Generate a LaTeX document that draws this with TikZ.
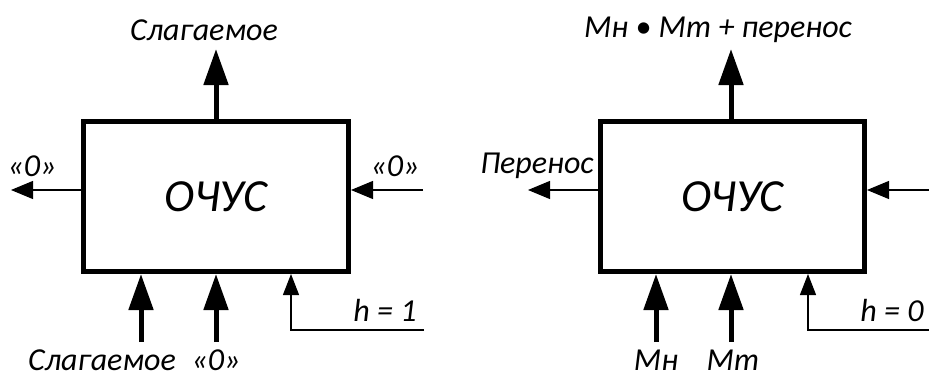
\documentclass[tikz,border=0pt]{standalone}
\usepackage{fontspec}
\setmainfont{Carlito}
\usetikzlibrary{arrows.meta}
\begin{document}
\begin{tikzpicture}[x=1pt,y=-1pt,
  blk/.style={draw,line width=5pt,minimum width=265pt,minimum height=150pt,inner sep=0pt,font=\fontsize{46}{50}\selectfont\itshape},
  lbl/.style={inner sep=0pt,font=\fontsize{32}{36}\selectfont\itshape},
  bus/.style={line width=5pt,-{Triangle[length=36pt,width=24pt]}},
  wire/.style={line width=1.2pt,-{Triangle[length=22pt,width=18pt]}},
  hwire/.style={line width=1.2pt,-{Triangle[length=21pt,width=16pt]}}]
\useasboundingbox (0,0) rectangle (929,378);

% left block
\node[blk] (L) at (216,196.5) {ОЧУС};
\node[lbl] (Ltxt) at (204,30) {Слагаемое};
\node[lbl] (Lz1) at (32,166) {«0»};
\node[lbl] (Lz2) at (395,166) {«0»};
\node[lbl] (Lb1) at (102,360) {Слагаемое};
\node[lbl] (Lb2) at (216,360) {«0»};
\node[lbl] (Lh) at (385,310) {h = 1};
\coordinate (Lup) at (216,49);
\coordinate (Lout) at (11,190);
\coordinate (Lin) at (423,190);
\coordinate (La) at (141,342);
\coordinate (Lb) at (216,342);
\coordinate (Lc) at (291,330);
\coordinate (Lend) at (424,330);
\draw[bus] (L.north) -- (Lup);
\draw[wire] (L.west |- Lout) -- (Lout);
\draw[wire] (Lin) -- (L.east |- Lin);
\draw[bus] (La) -- (La |- L.south);
\draw[bus] (Lb) -- (Lb |- L.south);
\draw[hwire] (Lend) -- (Lc) -- (Lc |- L.south);

% right block
\node[blk,minimum width=264pt] (R) at (732.5,196.5) {ОЧУС};
\node[lbl] (Rtxt) at (718,30) {Мн • Мт + перенос};
\node[lbl] (Rp) at (537,166) {Перенос};
\node[lbl] (Rb1) at (656,360) {Мн};
\node[lbl] (Rb2) at (733,360) {Мт};
\node[lbl] (Rh) at (892,310) {h = 0};
\coordinate (Rup) at (731,49);
\coordinate (Rout) at (528,190);
\coordinate (Rin) at (929,190);
\coordinate (Ra) at (656,342);
\coordinate (Rb) at (731,342);
\coordinate (Rc) at (808,330);
\coordinate (Rend) at (929,330);
\draw[bus] (R.north -| Rup) -- (Rup);
\draw[wire] (R.west |- Rout) -- (Rout);
\draw[wire] (Rin) -- (R.east |- Rin);
\draw[bus] (Ra) -- (Ra |- R.south);
\draw[bus] (Rb) -- (Rb |- R.south);
\draw[hwire] (Rend) -- (Rc) -- (Rc |- R.south);
\end{tikzpicture}
\end{document}
